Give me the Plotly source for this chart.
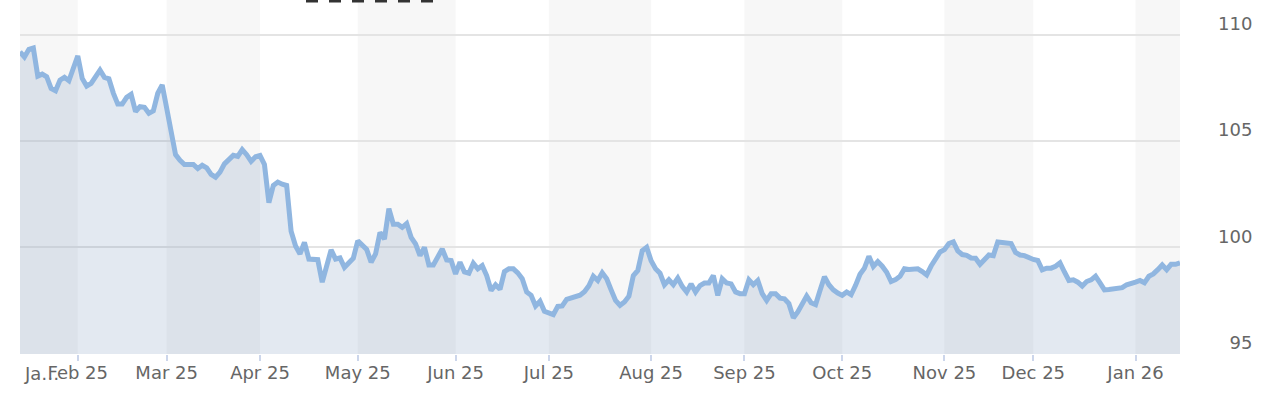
import pandas as pd
import plotly.graph_objects as go

# Trading days (weekdays) shown on the ordinal x axis
dates = pd.bdate_range("2025-01-15", "2026-01-15")

# Index values (one per weekday)
values = [
    109.20, 108.96, 109.32, 109.38, 108.06, 108.15, 108.03, 107.48, 107.37, 107.87,
    108.00, 107.84, 108.43, 109.01, 107.95, 107.59, 107.72, 108.06, 108.34, 108.00,
    107.93, 107.26, 106.74, 106.74, 107.06, 107.20, 106.39, 106.62, 106.59, 106.31,
    106.42, 107.25, 107.64, 106.55, 105.53, 104.36, 104.10, 103.90, 103.90, 103.90,
    103.71, 103.86, 103.74, 103.43, 103.30, 103.54, 103.93, 104.16, 104.33, 104.28,
    104.60, 104.36, 104.05, 104.26, 104.32, 103.90, 102.10, 102.91, 103.07, 102.97,
    102.91, 100.76, 100.06, 99.69, 100.23, 99.45, 99.45, 99.42, 98.36, 99.06,
    99.88, 99.45, 99.50, 99.06, 99.27, 99.49, 100.31, 100.11, 99.90, 99.30,
    99.69, 100.70, 100.39, 101.82, 101.09, 101.09, 100.94, 101.12, 100.47, 100.16,
    99.61, 100.00, 99.17, 99.17, 99.58, 99.92, 99.41, 99.38, 98.75, 99.30,
    98.84, 98.78, 99.25, 98.99, 99.14, 98.67, 97.97, 98.24, 98.02, 98.86,
    98.99, 98.99, 98.80, 98.52, 97.90, 97.74, 97.24, 97.46, 96.99, 96.88,
    96.83, 97.22, 97.24, 97.55, 97.61, 97.66, 97.75, 97.91, 98.19, 98.64,
    98.44, 98.80, 98.52, 98.00, 97.50, 97.27, 97.43, 97.70, 98.67, 98.91,
    99.84, 100.00, 99.37, 98.99, 98.78, 98.24, 98.47, 98.24, 98.55, 98.16,
    97.90, 98.28, 97.90, 98.20, 98.32, 98.32, 98.67, 97.74, 98.52, 98.32,
    98.28, 97.90, 97.82, 97.82, 98.47, 98.24, 98.44, 97.82, 97.50, 97.82,
    97.82, 97.61, 97.58, 97.35, 96.68, 96.96, 97.35, 97.71, 97.39, 97.30,
    97.97, 98.62, 98.24, 98.00, 97.85, 97.74, 97.90, 97.77, 98.21, 98.73,
    99.02, 99.58, 99.10, 99.33, 99.11, 98.83, 98.39, 98.48, 98.64, 98.99,
    98.96, 98.97, 98.99, 98.86, 98.70, 99.12, 99.43, 99.78, 99.89, 100.18,
    100.26, 99.83, 99.66, 99.62, 99.50, 99.49, 99.20, 99.42, 99.64, 99.61,
    100.25, 100.23, 100.23, 100.18, 99.76, 99.64, 99.61, 99.50, 99.43, 99.38,
    98.94, 99.02, 99.02, 99.11, 99.27, 98.84, 98.44, 98.47, 98.36, 98.18,
    98.39, 98.47, 98.64, 98.33, 98.00, 98.02, 98.05, 98.08, 98.10, 98.24,
    98.33, 98.36, 98.44, 98.33, 98.64, 98.75, 98.95, 99.17, 98.95, 99.20,
    99.20, 99.27,
]

tick_labels = ["Feb 25", "Mar 25", "Apr 25", "May 25", "Jun 25", "Jul 25",
               "Aug 25", "Sep 25", "Oct 25", "Nov 25", "Dec 25", "Jan 26"]
y_ticks = [95, 100, 105, 110]
y_tick_labels = ["\u200795", "100", "105", "110"]

n = min(len(dates), len(values))
idx = list(range(n))

# first weekday of each month -> ordinal tick positions
month_starts = [i for i in range(1, n) if dates[i].month != dates[i - 1].month]

fig = go.Figure()

# alternating month bands
edges = [0] + month_starts + [n - 1]
for k in range(len(edges) - 1):
    if k % 2 == 0:
        fig.add_shape(type="rect", xref="x", yref="paper",
                      x0=edges[k], x1=edges[k + 1], y0=0, y1=1,
                      fillcolor="#f7f7f7", line_width=0, layer="below")

fig.add_trace(go.Scatter(
    x=idx, y=values[:n], mode="lines",
    line=dict(color="#90b6e0", width=5),
    fill="tozeroy", fillcolor="rgba(70,110,160,0.15)",
    hoverinfo="skip",
))

# clipped label of the first (January) tick
fig.add_annotation(text="Ja\u2026", xref="paper", yref="paper",
                   x=2 / 1160, y=0, xanchor="left", yanchor="top",
                   yshift=-7, showarrow=False,
                   font=dict(family="DejaVu Sans", size=18, color="#666666"))

# cut-off dark element at the very top
fig.add_shape(type="line", xref="paper", yref="paper",
              x0=(306 - 20) / 1160, x1=(442 - 20) / 1160,
              y0=1 - 1 / 354, y1=1 - 1 / 354,
              line=dict(color="#333333", width=3, dash="12px,11px"))

fig.update_layout(
    width=1272, height=394,
    margin=dict(l=20, r=92, t=0, b=40),
    paper_bgcolor="white", plot_bgcolor="white",
    showlegend=False, hovermode=False,
    font=dict(family="DejaVu Sans", size=18, color="#666666"),
    xaxis=dict(
        range=[0, n - 1], tickmode="array",
        tickvals=month_starts, ticktext=tick_labels[:len(month_starts)],
        ticks="outside", ticklen=6, tickwidth=1.5, tickcolor="#ccd6eb",
        showgrid=False, showline=False, zeroline=False,
        ticklabelstandoff=-4,
        tickfont=dict(size=18, color="#666666"),
    ),
    yaxis=dict(
        side="right", range=[94.98, 111.64],
        tickmode="array", tickvals=y_ticks, ticktext=y_tick_labels,
        showgrid=True, gridcolor="#e4e4e4", gridwidth=2,
        zeroline=False, showline=False, ticks="",
        ticklabelstandoff=37, ticklabelshift=-11,
        tickfont=dict(size=18, color="#666666"),
    ),
)

fig.write_html("out.html")
